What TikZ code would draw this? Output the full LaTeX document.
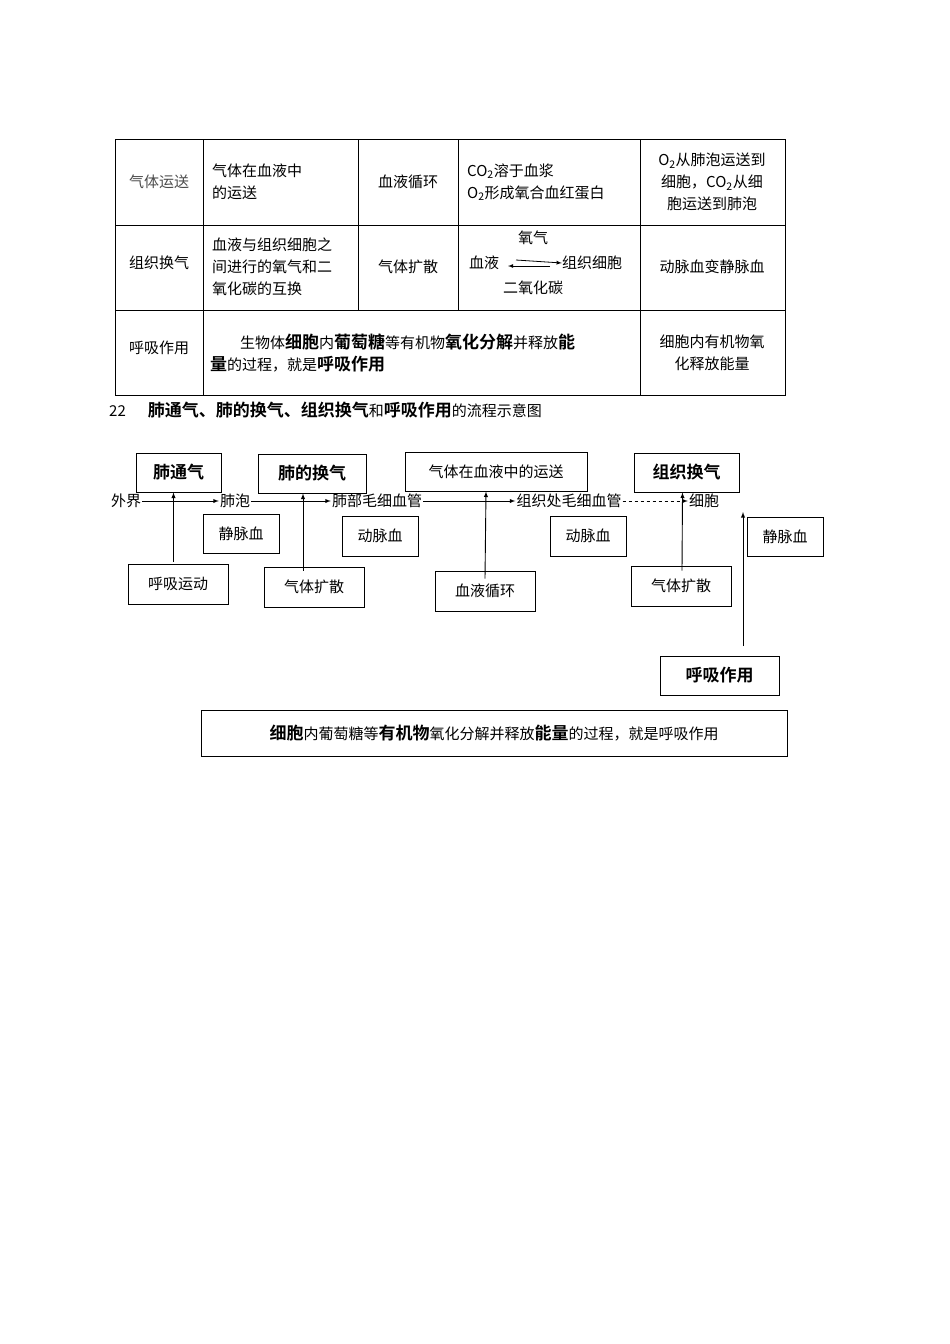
\documentclass[tikz,border=0pt]{standalone}
\usepackage{fontspec}
\setmainfont{Noto Sans CJK SC}[BoldFont={Noto Sans CJK SC Bold}]
\XeTeXlinebreaklocale "zh"
\XeTeXlinebreakskip=0pt plus 1pt
\begin{document}
\begin{tikzpicture}[x=1pt,y=-1pt,
  t/.style={font=\fontsize{15}{22}\selectfont,align=center,inner sep=0pt},
  b/.style={draw,line width=1pt,font=\fontsize{15}{18}\selectfont,inner sep=0pt},
  hb/.style={draw,line width=1pt,font=\fontsize{17}{20}\selectfont\bfseries,inner sep=0pt},
  ar/.style={-latex,line width=0.9pt},
  fl/.style={font=\fontsize{15}{18}\selectfont,inner sep=1pt}]
\useasboundingbox (0,0) rectangle (950,1344);
% table
\draw[line width=0.8pt] (115,139) rectangle (785,395);
\foreach \y in {225,310} \draw[line width=0.8pt] (115,\y)--(785,\y);
\draw[line width=0.8pt] (203,139)--(203,395) (640,139)--(640,395);
\draw[line width=0.8pt] (358,139)--(358,310) (458,139)--(458,310);
\node[t,text=black!70] (a1) at (159,182) {气体运送};
\node[t,align=left,anchor=west] (a2) at (212,182) {气体在血液中\\的运送};
\node[t] (a3) at (408,182) {血液循环};
\node[t,align=left,anchor=west] (a4) at (467,182) {CO\textsubscript{2}溶于血浆\\O\textsubscript{2}形成氧合血红蛋白};
\node[t] (a5) at (712,182) {O\textsubscript{2}从肺泡运送到\\细胞，CO\textsubscript{2}从细\\胞运送到肺泡};
\node[t] (b1) at (159,263) {组织换气};
\node[t,align=left,anchor=west] (b2) at (212,267) {血液与组织细胞之\\间进行的氧气和二\\氧化碳的互换};
\node[t] (b3) at (408,267) {气体扩散};
\node[t] (b4o) at (533,238) {氧气};
\node[t] (b4l) at (484,263) {血液};
\node[t] (b4r) at (592,263) {组织细胞};
\node[t] (b4c) at (533,288) {二氧化碳};
\draw[-latex,line width=0.8pt] (516,260)--(b4r.west);
\draw[-latex,line width=0.8pt] (550,266)--(508,266);
\node[t] (b5) at (712,267) {动脉血变静脉血};
\node[t] (c1) at (159,348) {呼吸作用};
\node[t,align=left,anchor=west,text width=425pt] (c2) at (210,353) {\hspace*{2em}生物体{\bfseries\fontsize{17}{22}\selectfont 细胞}内{\bfseries\fontsize{17}{22}\selectfont 葡萄糖}等有机物{\bfseries\fontsize{17}{22}\selectfont 氧化分解}并释放{\bfseries\fontsize{17}{22}\selectfont 能\\量}的过程，就是{\bfseries\fontsize{17}{22}\selectfont 呼吸作用}};
\node[t] (c3) at (712,353) {细胞内有机物氧\\化释放能量};
% heading
\node[fl,anchor=west] (h) at (108,410) {22\hspace{22pt}{\bfseries\fontsize{17}{20}\selectfont 肺通气、肺的换气、组织换气}和{\bfseries\fontsize{17}{20}\selectfont 呼吸作用}的流程示意图};
% flow line
\node[fl] (w) at (126,501) {外界};
\node[fl] (p) at (235,501) {肺泡};
\node[fl] (f) at (377,501) {肺部毛细血管};
\node[fl] (z) at (569,501) {组织处毛细血管};
\node[fl] (x) at (704,501) {细胞};
\draw[ar,-latex] (w)--(p);
\draw[ar] (p)--(f);
\draw[ar] (f)--(z);
\draw[ar,dashed] (z)--(x);
% top boxes
\node[hb,minimum width=85pt,minimum height=39pt] (t1) at (178.5,472.5) {肺通气};
\node[hb,minimum width=108pt,minimum height=39pt] (t2) at (312,473.5) {肺的换气};
\node[b,minimum width=182pt,minimum height=39pt] (t3) at (496,471.5) {气体在血液中的运送};
\node[hb,minimum width=105pt,minimum height=39pt] (t4) at (686.5,472.5) {组织换气};
% blood boxes
\node[b,minimum width=76pt,minimum height=39pt] (v1) at (241,533.5) {静脉血};
\node[b,minimum width=76pt,minimum height=40pt] (d1) at (380,536) {动脉血};
\node[b,minimum width=76pt,minimum height=40pt] (d2) at (588,536) {动脉血};
\node[b,minimum width=76pt,minimum height=39pt] (v2) at (785,536.5) {静脉血};
% bottom boxes
\node[b,minimum width=100pt,minimum height=40pt] (m1) at (178,584) {呼吸运动};
\node[b,minimum width=100pt,minimum height=40pt] (m2) at (314,587) {气体扩散};
\node[b,minimum width=100pt,minimum height=40pt] (m3) at (485,591) {血液循环};
\node[b,minimum width=100pt,minimum height=40pt] (m4) at (681,586) {气体扩散};
\node[hb,minimum width=119pt,minimum height=39pt] (r) at (719.5,675.5) {呼吸作用};
\node[b,minimum width=586pt,minimum height=46pt,font=\fontsize{15}{18}\selectfont] (desc) at (494,733) {{\bfseries\fontsize{17}{20}\selectfont 细胞}内葡萄糖等{\bfseries\fontsize{17}{20}\selectfont 有机物}氧化分解并释放{\bfseries\fontsize{17}{20}\selectfont 能量}的过程，就是呼吸作用};
% vertical arrows
\coordinate (r1) at (743,646);
\coordinate (r2) at (743,512);
\draw[ar] (m1.north -| t1.south) ++(-5,-2) -- ([xshift=-5pt]t1.south);
\draw[ar] ([xshift=-11pt,yshift=-4pt]m2.north) -- ([xshift=-9pt]t2.south);
\draw[ar] ([yshift=-8pt]m3.north) -- ([xshift=-10pt]t3.south);
\draw[ar] ([yshift=-5pt,xshift=1pt]m4.north) -- ([xshift=-4pt]t4.south);
\draw[ar] (r1)--(r2);
\end{tikzpicture}
\end{document}
